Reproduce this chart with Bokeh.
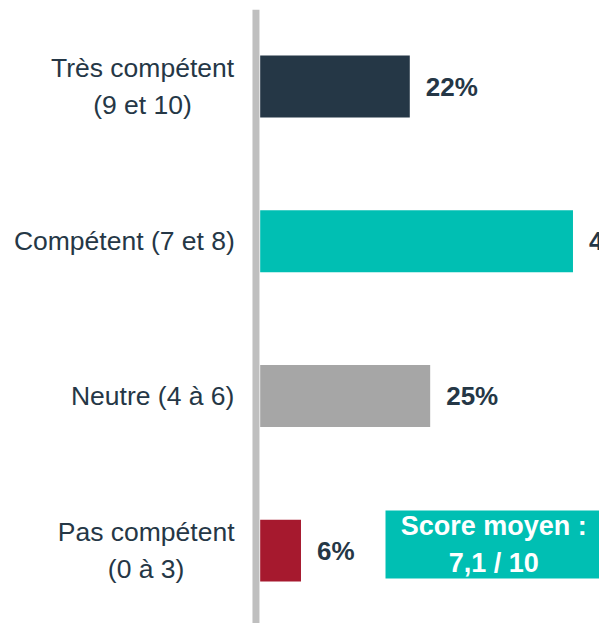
from bokeh.plotting import figure
from bokeh.models import Range1d, ColumnDataSource, BoxAnnotation, Label, Span
from bokeh.core.properties import value
from bokeh.embed import file_html
from bokeh.resources import INLINE

# ---- data ----
categories = ["Très compétent\n(9 et 10)", "Compétent (7 et 8)", "Neutre (4 à 6)", "Pas compétent\n(0 à 3)"]
values = [22, 46, 25, 6]
bar_colors = ["#253746", "#00BFB3", "#A6A6A6", "#A6192E"]
score_text = "Score moyen :\n7,1 / 10"

NAVY = "#253746"
FONT = "Liberation Sans"
CAT_SIZE = 26.5

# approximate advance widths (Arial / Liberation Sans metrics, per em) used to right-align label blocks
ADV = {" ": .278, "(": .333, ")": .333, "C": .722, "N": .722, "P": .667, "T": .611,
       "a": .556, "à": .556, "c": .5, "e": .556, "é": .556, "è": .556, "m": .833,
       "n": .556, "o": .556, "p": .556, "r": .333, "s": .5, "t": .278, "u": .556}


def text_width(s, size):
    return max(sum(ADV.get(ch, .556) for ch in line) for line in s.split("\n")) * size * 0.985


ypos = [len(categories) - 1 - i for i in range(len(categories))]
src = ColumnDataSource(dict(
    y=ypos,
    value=values,
    color=bar_colors,
    label=[f"{v}%" for v in values],
    cat=categories,
    cat_off=[-27 - text_width(c, CAT_SIZE) / 2 for c in categories],
))

p = figure(width=599, height=623,
           x_range=Range1d(-38.19, 49.9), y_range=Range1d(-0.471, 3.498),
           output_backend="svg", toolbar_location=None,
           x_axis_location=None, y_axis_location=None,
           min_border_left=0, min_border_right=0,
           min_border_top=9, min_border_bottom=0)

p.hbar(y="y", left=0, right="value", height=0.4, color="color", line_color=None, source=src)
p.text(x="value", y="y", text="label", x_offset=16,
       text_align="left", text_baseline="middle",
       text_font=value(FONT), text_font_style="bold", text_font_size="26px",
       text_color=NAVY, source=src)

# category labels (right-aligned block, centred lines)
p.text(x=0, y="y", text="cat", x_offset="cat_off",
       text_align="center", text_baseline="middle",
       text_font=value(FONT), text_font_size=f"{CAT_SIZE}px",
       text_line_height=1.25, text_color=NAVY, source=src)

# vertical axis line
p.add_layout(Span(location=-0.62, dimension="height", line_color="#BFBFBF", line_width=7))

# score box
box = BoxAnnotation(left=18.43, right=52, bottom=-0.180, top=0.2595,
                    fill_color="#00BFB3", fill_alpha=1.0, line_color=None)
p.add_layout(box)
lab = Label(x=34.34, y=0.040, text=score_text, text_align="center", text_baseline="middle",
            text_font=FONT, text_font_style="bold", text_font_size="27px",
            text_color="white", text_line_height=1.25)
p.add_layout(lab)

p.grid.visible = False
p.outline_line_color = None
p.background_fill_color = "white"
p.border_fill_color = "white"

open("out.html", "w").write(file_html(p, INLINE))
